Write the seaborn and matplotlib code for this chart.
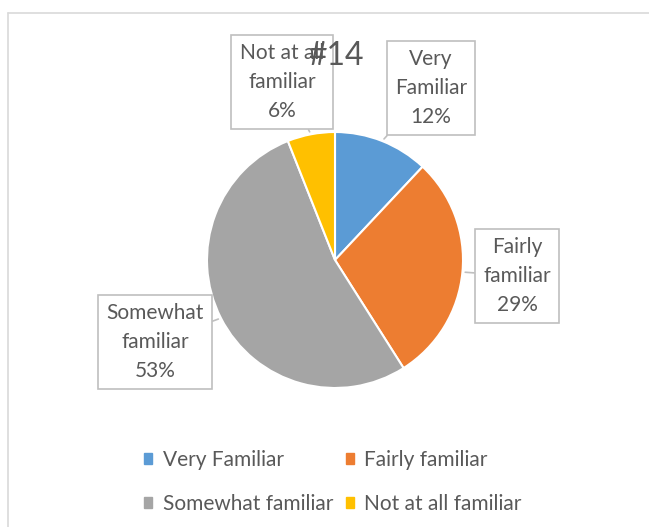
import numpy as np
import matplotlib
matplotlib.use("Agg")
import matplotlib.pyplot as plt
from matplotlib.patches import Patch
from matplotlib.lines import Line2D
import seaborn as sns

# data
categories = ["Very Familiar", "Fairly familiar", "Somewhat familiar", "Not at all familiar"]
shares = [12, 29, 53, 6]
label_lines = ["Very\nFamiliar", "Fairly\nfamiliar", "Somewhat\nfamiliar", "Not at all\nfamiliar"]
colors = ["#5B9BD5", "#ED7D31", "#A5A5A5", "#FFC000"]
title = "#14"

sns.set_theme(style="white")
plt.rcParams["font.family"] = ["Lato", "DejaVu Sans"]
text_color = "#595959"

W, H = 649, 527
fig = plt.figure(figsize=(W / 100, H / 100), dpi=100)
fig.patch.set_facecolor("white")

# pie centre (335, 260) px, radius 128 px
cx, cy, r = 335, 260, 128
ax = fig.add_axes([(cx - r) / W, (H - cy - r) / H, 2 * r / W, 2 * r / H])
wedges, _ = ax.pie(shares, colors=colors, startangle=90, counterclock=False,
                   radius=1, wedgeprops=dict(edgecolor="white", linewidth=1.5))
ax.set_xlim(-1, 1)
ax.set_ylim(-1, 1)
ax.set_aspect("equal")
ax.axis("off")

# label box centres in px
box_px = [(431, 88), (517, 276), (155, 342), (282, 82)]

for w, txt, share, (bx, by) in zip(wedges, label_lines, shares, box_px):
    mid = np.deg2rad((w.theta1 + w.theta2) / 2)
    edge = (np.cos(mid), np.sin(mid))
    pos = ((bx - cx) / r, (cy - by) / r)
    ax.annotate(f"{txt}\n{share}%", xy=edge, xytext=pos,
                ha="center", va="center", fontsize=15, color=text_color,
                linespacing=1.55, annotation_clip=False,
                bbox=dict(boxstyle="square,pad=0.4", fc="white", ec="#BFBFBF", lw=1.2),
                arrowprops=dict(arrowstyle="-", color="#BFBFBF", lw=1.2,
                                shrinkA=0, shrinkB=2))

fig.text(336 / W, 1 - 56 / H, title, ha="center", va="center",
         fontsize=23, color=text_color, zorder=10)

# legend, row-wise order like the reference
order = [0, 2, 1, 3]
handles = [Patch(facecolor=colors[i], edgecolor=colors[i]) for i in order]
labels = [categories[i] for i in order]
fig.legend(handles, labels, ncol=2, loc="center",
           bbox_to_anchor=(333 / W, 1 - 482 / H), frameon=False,
           fontsize=15, labelcolor=text_color,
           handlelength=0.4, handleheight=0.4, handletextpad=0.5,
           columnspacing=0.6, labelspacing=1.15)

# chart border (left and top edges visible)
fig.add_artist(Line2D([8 / W, 8 / W], [0, 1 - 13 / H], color="#D9D9D9", lw=1.2))
fig.add_artist(Line2D([8 / W, 1], [1 - 13 / H, 1 - 13 / H], color="#D9D9D9", lw=1.2))

fig.savefig("out.png", dpi=100)
